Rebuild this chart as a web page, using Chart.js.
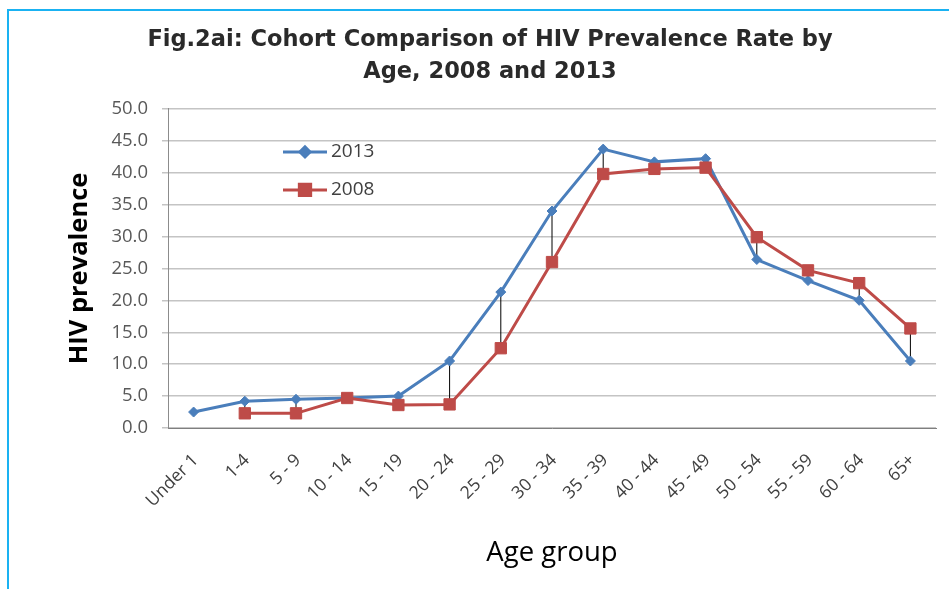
<!DOCTYPE html>
<html>
<head>
<meta charset="utf-8">
<script src="https://cdn.jsdelivr.net/npm/chart.js@4"></script>
<style>
    html, body { margin: 0; padding: 0; background: #fff; }
    #wrap { position: relative; width: 949px; height: 589px; }
    #frame { position: absolute; left: 7px; top: 9px; width: 942px; height: 580px;
             border-left: 2px solid #1ab2f2; border-top: 2px solid #1ab2f2; box-sizing: border-box; }
    canvas { position: absolute; left: 0; top: 0; }
</style>
</head>
<body>
<div id="wrap">
    <div id="frame"></div>
    <canvas id="hiv_chart" width="949" height="589"></canvas>
</div>
<script>
const ageGroups = ['Under 1', '1-4', '5 - 9', '10 - 14', '15 - 19', '20 - 24', '25 - 29', '30 - 34',
    '35 - 39', '40 - 44', '45 - 49', '50 - 54', '55 - 59', '60 - 64', '65+'];
const prev2013 = [2.5, 4.2, 4.5, 4.7, 5.0, 10.5, 21.3, 34.0, 43.7, 41.7, 42.2, 26.4, 23.1, 20.0, 10.5];
const prev2008 = [null, 2.3, 2.3, 4.7, 3.6, 3.7, 12.5, 26.0, 39.8, 40.6, 40.8, 29.9, 24.7, 22.7, 15.6];
const yTicks = [0, 5, 10, 15, 20, 25, 30, 35, 40, 45, 50];

const blue = '#4a7ebb';
const red = '#be4b48';

// black high-low lines between the two years
const dropLines = {
    id: 'dropLines',
    beforeDatasetsDraw(chart) {
        const a = chart.getDatasetMeta(0).data;
        const b = chart.getDatasetMeta(1).data;
        const ctx = chart.ctx;
        ctx.save();
        ctx.strokeStyle = '#000';
        ctx.lineWidth = 1;
        a.forEach((p, i) => {
            if (prev2013[i] == null || prev2008[i] == null) return;
            ctx.beginPath();
            ctx.moveTo(p.x, p.y);
            ctx.lineTo(b[i].x, b[i].y);
            ctx.stroke();
        });
        ctx.restore();
    }
};

// legend drawn inside the plot area like the Excel original
const insideLegend = {
    id: 'insideLegend',
    afterDraw(chart) {
        const ctx = chart.ctx;
        const area = chart.chartArea;
        const items = [
            { text: '2013', color: blue, style: 'rectRot', r: 5, dy: 43 },
            { text: '2008', color: red, style: 'rect', r: 8, dy: 81 }
        ];
        ctx.save();
        items.forEach(it => {
            const x0 = area.left + 115;
            const y = area.top + it.dy;
            ctx.strokeStyle = it.color;
            ctx.lineWidth = 3;
            ctx.beginPath();
            ctx.moveTo(x0, y);
            ctx.lineTo(x0 + 44, y);
            ctx.stroke();
            Chart.helpers.drawPoint(ctx, { pointStyle: it.style, radius: it.r, borderWidth: 1 }, x0 + 22, y);
            ctx.fillStyle = it.color;
            ctx.fill();
            ctx.fillStyle = '#404040';
            ctx.font = '19px "Open Sans"';
            ctx.textBaseline = 'middle';
            ctx.fillText(it.text, x0 + 48, y);
        });
        ctx.restore();
    }
};

const ctx = document.getElementById('hiv_chart').getContext('2d');

new Chart(ctx, {
    type: 'line',
    data: {
        labels: ageGroups,
        datasets: [{
            label: '2013',
            data: prev2013,
            borderColor: blue,
            backgroundColor: blue,
            borderWidth: 3,
            pointStyle: 'rectRot',
            pointRadius: 5,
            pointBorderWidth: 1,
            tension: 0,
            order: 1
        }, {
            label: '2008',
            data: prev2008,
            borderColor: red,
            backgroundColor: red,
            borderWidth: 3,
            pointStyle: 'rect',
            pointRadius: 8,
            pointBorderWidth: 1,
            tension: 0,
            order: 0
        }]
    },
    options: {
        responsive: false,
        animation: false,
        layout: {
            padding: { left: 44, right: 13, top: 0, bottom: 0 }
        },
        scales: {
            x: {
                offset: true,
                grid: { display: false },
                border: { display: true, color: '#7f7f7f', width: 1 },
                ticks: {
                    color: '#404040',
                    font: { family: 'Open Sans', size: 17.5 },
                    minRotation: 45,
                    maxRotation: 45,
                    autoSkip: false,
                    padding: 14,
                    labelOffset: 2
                },
                title: {
                    display: true,
                    text: 'Age group',
                    color: '#000',
                    font: { family: 'Open Sans', size: 27.5 },
                    padding: { top: 0, bottom: 19 }
                },
                afterFit(scale) { scale.height = 161; }
            },
            y: {
                min: 0,
                max: 50,
                afterBuildTicks(scale) { scale.ticks = yTicks.map(v => ({ value: v })); },
                grid: { color: '#c4c4c4', lineWidth: 1.5, tickLength: 6 },
                border: { display: true, color: '#8c8c8c', width: 1 },
                ticks: {
                    color: '#595959',
                    font: { family: 'Open Sans', size: 18.5 },
                    padding: 14,
                    callback: v => v.toFixed(1)
                },
                title: {
                    display: true,
                    text: 'HIV prevalence',
                    color: '#000',
                    font: { family: 'Open Sans', size: 25.5, weight: 'bold' },
                    padding: { top: 20, bottom: 0 }
                },
                afterFit(scale) { scale.width = 124; }
            }
        },
        plugins: {
            legend: { display: false },
            tooltip: { enabled: false },
            title: {
                display: true,
                text: ['Fig.2ai: Cohort Comparison of HIV Prevalence Rate by', 'Age, 2008 and 2013'],
                color: '#2a2a2a',
                font: { family: 'DejaVu Sans', size: 22.5, weight: 'bold', lineHeight: 1.42 },
                padding: { top: 24, bottom: 21 }
            }
        }
    },
    plugins: [dropLines, insideLegend]
});
</script>
</body>
</html>
